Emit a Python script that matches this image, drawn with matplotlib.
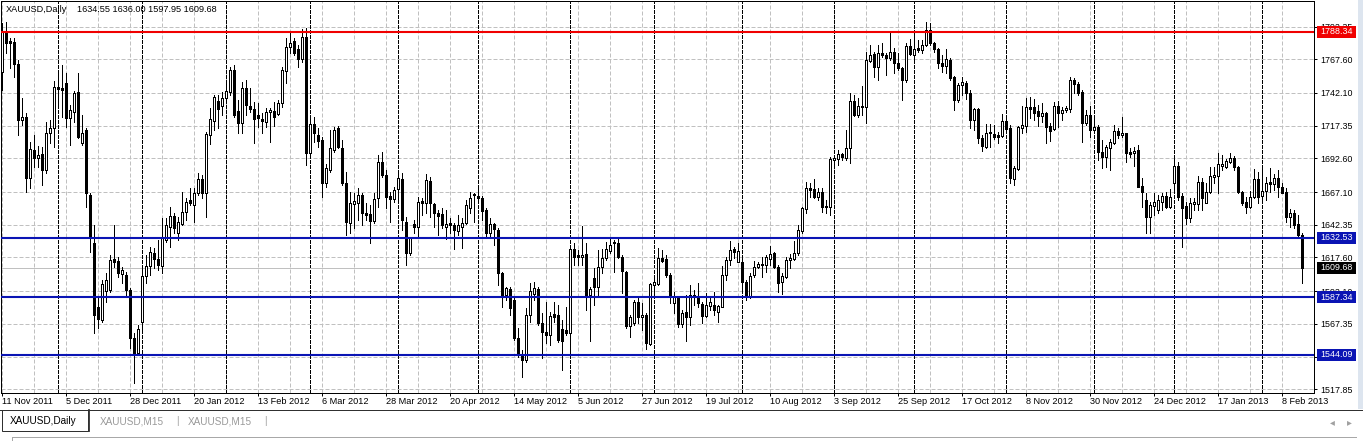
import numpy as np
import matplotlib.pyplot as plt
from matplotlib.patches import Rectangle
import matplotlib.transforms as mtransforms

plt.rcParams['font.family'] = ['Liberation Sans', 'DejaVu Sans']

# daily XAUUSD bars, 11 Nov 2011 .. 12 Feb 2013
opens = [
    1758.2, 1788.5, 1781.4, 1780.9, 1764.0, 1721.6, 1723.6, 1677.5, 1698.9, 1692.6,
    1695.9, 1683.8, 1711.5, 1715.3, 1746.3, 1745.6, 1749.4, 1723.4, 1727.9, 1743.1,
    1704.5, 1714.0, 1664.8, 1628.8, 1579.8, 1570.2, 1592.4, 1592.9, 1616.1, 1615.1,
    1605.1, 1604.3, 1592.9, 1556.4, 1545.5, 1569.0, 1603.5, 1611.1, 1621.2, 1616.1,
    1611.4, 1630.8, 1640.9, 1649.0, 1635.8, 1642.9, 1652.2, 1661.1, 1657.3, 1666.1,
    1676.7, 1666.1, 1710.3, 1721.1, 1736.2, 1732.2, 1738.0, 1743.1, 1759.5, 1728.7,
    1719.6, 1745.6, 1732.2, 1729.7, 1725.4, 1722.6, 1720.3, 1727.9, 1728.7, 1726.2,
    1734.7, 1759.0, 1776.6, 1781.7, 1775.1, 1767.5, 1784.2, 1696.4, 1718.6, 1710.3,
    1706.5, 1674.2, 1683.8, 1698.9, 1715.3, 1700.2, 1673.7, 1643.9, 1657.8, 1658.5,
    1664.8, 1651.0, 1650.5, 1645.4, 1662.3, 1690.1, 1680.0, 1664.1, 1661.6, 1669.1,
    1676.7, 1644.7, 1620.7, 1642.9, 1640.9, 1660.3, 1659.0, 1675.7, 1658.0, 1651.5,
    1650.5, 1640.9, 1643.9, 1642.1, 1637.8, 1640.4, 1643.4, 1654.7, 1665.6, 1664.1,
    1662.3, 1653.5, 1635.8, 1642.9, 1638.4, 1605.6, 1589.2, 1593.4, 1585.4, 1556.4,
    1543.7, 1540.0, 1574.0, 1589.9, 1593.4, 1568.2, 1561.4, 1558.9, 1574.8, 1574.0,
    1563.2, 1562.7, 1560.6, 1623.7, 1619.4, 1617.7, 1619.9, 1589.2, 1601.8, 1595.5,
    1610.1, 1616.9, 1622.7, 1629.5, 1628.8, 1617.7, 1606.3, 1565.7, 1568.2, 1584.1,
    1572.2, 1574.0, 1552.1, 1596.7, 1597.2, 1616.9, 1616.1, 1604.3, 1582.9, 1587.4,
    1567.2, 1576.5, 1572.8, 1589.2, 1588.4, 1582.3, 1573.3, 1580.8, 1581.6, 1576.5,
    1580.3, 1604.3, 1615.6, 1623.7, 1614.4, 1614.4, 1599.2, 1587.9, 1604.3, 1610.6,
    1612.4, 1611.9, 1616.1, 1620.7, 1610.1, 1599.2, 1603.0, 1615.6, 1616.1, 1620.7,
    1637.8, 1654.0, 1670.4, 1669.1, 1663.6, 1667.4, 1656.5, 1655.5, 1691.3, 1691.8,
    1695.6, 1692.6, 1700.2, 1736.0, 1725.4, 1731.2, 1731.2, 1766.5, 1771.6, 1761.5,
    1772.1, 1770.6, 1768.3, 1772.8, 1765.0, 1760.7, 1751.9, 1777.6, 1770.8, 1775.9,
    1774.6, 1778.4, 1789.7, 1779.6, 1775.1, 1765.0, 1762.5, 1767.0, 1753.9, 1736.7,
    1748.1, 1749.9, 1742.3, 1721.6, 1729.7, 1707.7, 1701.4, 1711.5, 1711.0, 1710.3,
    1709.5, 1721.1, 1715.3, 1676.7, 1684.3, 1715.3, 1717.1, 1731.2, 1731.2, 1728.7,
    1724.6, 1726.7, 1717.1, 1714.5, 1732.2, 1727.2, 1729.2, 1729.7, 1751.9, 1748.9,
    1743.1, 1719.6, 1725.4, 1714.0, 1716.1, 1697.6, 1693.9, 1700.2, 1704.5, 1713.3,
    1710.3, 1711.5, 1697.6, 1696.9, 1698.9, 1671.7, 1661.1, 1648.0, 1656.5, 1653.5,
    1659.8, 1664.1, 1655.5, 1674.2, 1686.8, 1664.1, 1656.5, 1647.2, 1658.0, 1658.0,
    1674.9, 1659.0, 1667.4, 1678.7, 1679.2, 1686.8, 1685.8, 1690.1, 1692.6, 1686.3,
    1667.4, 1659.8, 1655.5, 1663.6, 1676.7, 1664.1, 1668.1, 1674.9, 1673.2, 1677.5,
    1671.2, 1667.4, 1648.0, 1651.0, 1642.9, 1634.55,
]
highs = [
    1794.8, 1796.0, 1783.4, 1783.4, 1767.0, 1738.0, 1726.7, 1705.2, 1710.3, 1701.9,
    1701.4, 1720.3, 1721.6, 1751.4, 1756.9, 1763.2, 1756.9, 1733.0, 1743.8, 1756.9,
    1725.4, 1715.3, 1666.1, 1642.1, 1587.9, 1600.5, 1605.6, 1619.4, 1642.1, 1617.7,
    1610.6, 1606.8, 1594.2, 1560.1, 1566.4, 1610.6, 1619.4, 1625.7, 1624.5, 1630.8,
    1647.2, 1647.2, 1656.0, 1651.0, 1648.4, 1667.4, 1662.3, 1669.9, 1669.9, 1681.2,
    1680.0, 1712.8, 1730.4, 1740.5, 1740.5, 1743.1, 1751.9, 1762.0, 1763.2, 1736.7,
    1750.6, 1751.9, 1745.6, 1735.5, 1734.2, 1726.7, 1730.4, 1730.4, 1735.5, 1736.7,
    1762.0, 1783.4, 1787.2, 1783.4, 1778.4, 1790.2, 1791.0, 1725.4, 1724.1, 1715.3,
    1709.0, 1688.3, 1714.0, 1716.6, 1717.1, 1706.5, 1682.5, 1667.4, 1666.1, 1669.9,
    1666.1, 1658.5, 1657.3, 1666.1, 1695.1, 1697.6, 1683.8, 1667.4, 1671.2, 1683.8,
    1681.2, 1648.4, 1633.3, 1645.9, 1663.6, 1662.3, 1680.7, 1678.7, 1658.5, 1653.5,
    1654.7, 1653.5, 1647.2, 1643.4, 1649.7, 1647.2, 1661.1, 1667.4, 1666.6, 1671.7,
    1664.1, 1654.7, 1647.2, 1643.4, 1639.6, 1606.8, 1595.5, 1595.5, 1586.6, 1563.9,
    1547.5, 1579.1, 1598.0, 1599.2, 1595.5, 1575.3, 1584.1, 1576.6, 1584.1, 1581.6,
    1570.2, 1580.3, 1625.7, 1628.8, 1623.2, 1641.4, 1628.8, 1595.5, 1609.3, 1623.2,
    1623.7, 1629.5, 1633.3, 1630.8, 1632.0, 1619.4, 1607.6, 1574.0, 1585.4, 1586.6,
    1583.3, 1575.3, 1598.0, 1603.0, 1624.5, 1623.2, 1619.4, 1605.6, 1591.7, 1587.9,
    1577.8, 1589.2, 1596.7, 1592.9, 1598.5, 1584.1, 1590.9, 1586.6, 1591.7, 1581.6,
    1611.1, 1618.2, 1630.3, 1625.7, 1628.2, 1616.9, 1600.5, 1605.6, 1615.1, 1614.4,
    1617.7, 1619.4, 1626.2, 1621.9, 1611.9, 1605.6, 1617.7, 1620.2, 1630.3, 1642.1,
    1656.0, 1674.9, 1673.7, 1676.7, 1669.9, 1669.9, 1661.1, 1693.9, 1695.1, 1698.9,
    1696.9, 1714.0, 1742.3, 1740.5, 1738.0, 1747.3, 1773.3, 1778.4, 1773.3, 1778.4,
    1779.6, 1772.1, 1788.5, 1775.9, 1772.6, 1762.0, 1779.6, 1782.7, 1789.7, 1782.2,
    1782.2, 1796.0, 1794.8, 1780.9, 1775.9, 1770.8, 1775.1, 1768.3, 1754.9, 1749.4,
    1754.4, 1751.4, 1744.3, 1730.4, 1730.4, 1710.3, 1718.6, 1718.6, 1717.8, 1712.8,
    1726.2, 1722.9, 1717.8, 1686.8, 1717.1, 1732.2, 1738.0, 1738.8, 1737.2, 1733.0,
    1734.7, 1727.9, 1719.1, 1735.5, 1736.2, 1731.2, 1732.2, 1754.4, 1753.1, 1750.6,
    1744.3, 1729.2, 1732.2, 1725.4, 1717.8, 1706.5, 1702.7, 1707.0, 1717.8, 1715.3,
    1724.1, 1712.0, 1700.2, 1701.4, 1702.7, 1677.5, 1666.6, 1659.8, 1666.6, 1664.8,
    1666.1, 1667.4, 1669.1, 1693.9, 1690.1, 1666.1, 1659.8, 1662.3, 1662.3, 1679.2,
    1677.5, 1673.7, 1686.3, 1686.3, 1696.9, 1695.1, 1691.8, 1696.4, 1694.4, 1686.8,
    1668.1, 1663.1, 1668.1, 1684.3, 1682.5, 1684.3, 1678.7, 1685.0, 1680.7, 1683.8,
    1674.2, 1669.9, 1654.0, 1653.5, 1649.7, 1636.00,
]
lows = [
    1744.3, 1772.1, 1760.7, 1754.4, 1710.3, 1717.8, 1667.4, 1669.9, 1686.3, 1686.3,
    1672.4, 1681.7, 1704.5, 1701.4, 1730.4, 1724.1, 1716.6, 1702.7, 1720.3, 1707.7,
    1702.7, 1656.0, 1621.9, 1560.1, 1563.9, 1569.0, 1584.1, 1591.7, 1610.6, 1603.0,
    1598.0, 1589.2, 1548.8, 1522.8, 1543.7, 1562.7, 1598.0, 1604.3, 1609.3, 1608.1,
    1605.6, 1629.5, 1625.2, 1635.8, 1630.8, 1642.1, 1645.9, 1657.3, 1644.7, 1664.8,
    1662.3, 1648.4, 1703.4, 1714.0, 1715.3, 1725.4, 1736.7, 1740.5, 1724.1, 1711.5,
    1711.5, 1725.4, 1727.9, 1704.5, 1716.6, 1712.0, 1716.6, 1705.2, 1717.1, 1725.4,
    1731.7, 1749.4, 1772.6, 1770.8, 1761.5, 1765.8, 1687.6, 1694.4, 1705.2, 1701.4,
    1663.6, 1671.2, 1682.5, 1697.6, 1700.2, 1672.4, 1634.6, 1636.3, 1639.6, 1645.9,
    1642.1, 1645.9, 1628.2, 1643.4, 1656.0, 1678.7, 1654.7, 1644.7, 1659.8, 1661.1,
    1638.4, 1611.9, 1619.4, 1635.8, 1632.0, 1649.7, 1651.0, 1648.4, 1640.9, 1634.6,
    1639.6, 1631.3, 1635.8, 1623.7, 1634.6, 1624.5, 1642.9, 1651.0, 1644.7, 1659.8,
    1645.9, 1632.0, 1633.3, 1627.0, 1596.7, 1580.3, 1585.4, 1574.0, 1555.1, 1542.5,
    1527.3, 1538.7, 1569.0, 1585.4, 1566.4, 1541.2, 1552.6, 1551.3, 1569.0, 1553.8,
    1532.4, 1558.9, 1545.0, 1611.9, 1611.9, 1611.9, 1577.8, 1554.6, 1581.6, 1587.9,
    1606.1, 1615.6, 1620.7, 1606.8, 1616.9, 1590.4, 1563.9, 1557.6, 1566.4, 1567.7,
    1562.7, 1548.0, 1551.3, 1589.2, 1596.7, 1614.4, 1603.0, 1582.9, 1575.8, 1565.2,
    1565.2, 1554.6, 1566.4, 1581.6, 1580.3, 1567.7, 1572.8, 1577.8, 1574.0, 1569.0,
    1579.8, 1600.5, 1611.9, 1616.9, 1614.4, 1591.7, 1585.4, 1586.6, 1603.0, 1609.3,
    1603.0, 1606.8, 1611.9, 1609.3, 1591.7, 1589.9, 1601.8, 1609.3, 1615.6, 1619.4,
    1635.8, 1651.0, 1663.6, 1662.3, 1661.1, 1652.2, 1651.5, 1649.7, 1686.3, 1687.6,
    1691.3, 1691.3, 1688.8, 1724.6, 1724.1, 1725.4, 1719.1, 1765.8, 1754.4, 1751.9,
    1769.5, 1755.7, 1767.0, 1756.9, 1759.5, 1736.7, 1750.6, 1770.8, 1767.0, 1773.3,
    1772.1, 1777.6, 1778.4, 1773.3, 1760.7, 1758.2, 1756.9, 1751.9, 1729.2, 1735.5,
    1740.5, 1737.2, 1715.3, 1714.0, 1704.5, 1698.4, 1700.2, 1700.9, 1707.0, 1704.5,
    1709.0, 1711.5, 1673.7, 1672.4, 1683.8, 1711.5, 1712.8, 1722.9, 1721.6, 1717.1,
    1720.3, 1704.5, 1706.0, 1714.0, 1716.6, 1721.6, 1727.9, 1727.9, 1742.3, 1740.5,
    1705.2, 1717.8, 1708.5, 1712.8, 1691.3, 1685.0, 1686.3, 1683.8, 1703.4, 1707.7,
    1708.5, 1690.1, 1693.9, 1686.8, 1670.6, 1656.0, 1635.8, 1635.8, 1649.7, 1651.0,
    1653.5, 1654.7, 1654.7, 1666.1, 1661.1, 1625.7, 1642.9, 1644.7, 1653.5, 1653.5,
    1653.5, 1658.5, 1666.1, 1673.7, 1666.6, 1683.8, 1685.0, 1688.8, 1683.8, 1666.1,
    1657.3, 1651.5, 1654.7, 1662.3, 1658.5, 1659.8, 1661.1, 1667.4, 1668.6, 1663.6,
    1666.1, 1644.7, 1640.9, 1639.6, 1633.3, 1597.95,
]
closes = [
    1788.5, 1780.1, 1780.1, 1764.0, 1721.6, 1724.1, 1677.5, 1699.4, 1692.6, 1695.1,
    1683.8, 1712.0, 1715.3, 1746.3, 1744.8, 1744.3, 1722.9, 1729.2, 1742.3, 1708.5,
    1711.5, 1666.1, 1632.0, 1574.0, 1570.7, 1597.2, 1600.5, 1615.6, 1614.4, 1605.6,
    1608.1, 1592.9, 1556.4, 1545.0, 1563.2, 1603.5, 1611.1, 1622.0, 1616.1, 1611.9,
    1632.0, 1642.1, 1649.0, 1639.6, 1644.7, 1652.2, 1659.8, 1658.5, 1666.6, 1676.7,
    1666.1, 1711.0, 1722.1, 1738.8, 1729.7, 1738.0, 1743.8, 1759.5, 1725.4, 1719.6,
    1745.6, 1733.0, 1729.7, 1722.1, 1722.9, 1720.9, 1727.9, 1729.2, 1723.6, 1734.2,
    1759.5, 1777.1, 1780.1, 1772.1, 1767.5, 1784.2, 1696.9, 1718.6, 1711.5, 1706.0,
    1674.2, 1685.0, 1700.2, 1714.0, 1701.4, 1673.7, 1644.7, 1658.5, 1660.3, 1664.8,
    1651.0, 1649.7, 1645.4, 1661.6, 1690.1, 1680.0, 1663.6, 1661.6, 1668.6, 1677.5,
    1645.9, 1620.7, 1632.0, 1640.4, 1659.8, 1658.5, 1676.2, 1658.5, 1651.5, 1649.0,
    1642.1, 1642.9, 1642.1, 1638.4, 1642.1, 1643.9, 1657.3, 1662.3, 1664.8, 1662.3,
    1653.0, 1635.8, 1642.9, 1638.9, 1605.6, 1589.2, 1594.2, 1579.1, 1556.4, 1543.7,
    1540.0, 1574.0, 1592.4, 1594.2, 1568.2, 1561.4, 1558.9, 1573.3, 1572.8, 1555.1,
    1554.6, 1560.1, 1623.7, 1618.2, 1617.7, 1619.4, 1589.2, 1593.4, 1595.5, 1610.1,
    1616.9, 1623.7, 1626.7, 1628.2, 1618.2, 1607.6, 1565.7, 1572.8, 1584.1, 1572.8,
    1574.0, 1552.6, 1597.2, 1599.2, 1616.9, 1615.1, 1604.3, 1587.4, 1587.4, 1567.2,
    1575.8, 1572.2, 1589.2, 1587.4, 1583.3, 1573.3, 1581.6, 1584.1, 1577.8, 1580.8,
    1604.3, 1615.6, 1623.2, 1622.0, 1622.5, 1599.2, 1587.9, 1603.5, 1610.6, 1612.4,
    1611.9, 1617.7, 1620.2, 1610.1, 1598.5, 1603.5, 1615.6, 1616.9, 1620.7, 1638.4,
    1654.7, 1669.9, 1668.6, 1663.6, 1667.1, 1656.0, 1655.5, 1691.8, 1692.6, 1695.9,
    1693.4, 1700.2, 1736.0, 1725.4, 1732.2, 1732.2, 1767.0, 1770.8, 1761.5, 1772.6,
    1770.6, 1768.3, 1772.8, 1764.5, 1760.7, 1751.9, 1777.6, 1771.6, 1775.1, 1774.6,
    1778.4, 1789.7, 1779.6, 1775.1, 1764.5, 1762.5, 1767.5, 1753.1, 1736.7, 1748.1,
    1750.6, 1741.8, 1721.6, 1729.7, 1707.7, 1701.9, 1712.0, 1712.8, 1709.0, 1709.0,
    1721.1, 1714.5, 1677.5, 1685.0, 1716.1, 1717.8, 1731.2, 1729.7, 1727.2, 1724.6,
    1726.7, 1716.1, 1713.5, 1732.2, 1727.2, 1729.2, 1730.4, 1751.9, 1748.9, 1742.3,
    1719.6, 1725.4, 1714.0, 1716.1, 1697.6, 1693.9, 1700.9, 1705.2, 1713.3, 1710.3,
    1711.5, 1696.9, 1695.9, 1698.4, 1671.2, 1667.4, 1648.0, 1657.3, 1659.8, 1661.1,
    1664.1, 1655.5, 1663.6, 1686.8, 1663.6, 1654.7, 1647.2, 1659.0, 1659.8, 1674.9,
    1662.3, 1667.4, 1679.2, 1680.0, 1688.3, 1688.3, 1690.8, 1692.6, 1685.8, 1667.4,
    1659.0, 1655.5, 1663.6, 1676.7, 1663.6, 1668.1, 1674.2, 1673.2, 1677.5, 1671.2,
    1666.6, 1648.0, 1651.0, 1642.1, 1634.6, 1609.68,
]

date_labels = ['11 Nov 2011', '5 Dec 2011', '28 Dec 2011', '20 Jan 2012', '13 Feb 2012',
               '6 Mar 2012', '28 Mar 2012', '20 Apr 2012', '14 May 2012', '5 Jun 2012',
               '27 Jun 2012', '19 Jul 2012', '10 Aug 2012', '3 Sep 2012', '25 Sep 2012',
               '17 Oct 2012', '8 Nov 2012', '30 Nov 2012', '24 Dec 2012', '17 Jan 2013',
               '8 Feb 2013']
label_step = 16
# first bar of each month (period separators)
month_starts = [14, 35, 56, 77, 99, 119, 142, 163, 185, 208, 228, 251, 273, 293, 315]
price_ticks = [1792.35, 1767.60, 1742.10, 1717.35, 1692.60, 1667.10, 1642.35,
               1617.60, 1592.10, 1567.35, 1542.60, 1517.85]
hidden_tick = 1542.60   # fully covered by the 1544.09 tag in the original
resistance = 1788.34
supports = [1632.53, 1587.34, 1544.09]
header = 'XAUUSD,Daily'
tabs = ['XAUUSD,Daily', 'XAUUSD,M15', 'XAUUSD,M15']

assert len(opens) == len(highs) == len(lows) == len(closes)

W, H = 1363, 441
fig = plt.figure(figsize=(W / 100, H / 100), dpi=100)
fig.patch.set_facecolor('white')

def fx(x):
    return x / W

def fy(y):
    return 1 - y / H

# chart box in pixels
L, R, T, B = 1, 1314, 1, 393
ax = fig.add_axes([fx(L), fy(B), (R - L) / W, (B - T) / H])
ax.set_facecolor('white')
y_lo, y_hi = 1515.0, 1811.7
ax.set_xlim(-0.25, 328)
ax.set_ylim(y_lo, y_hi)

o = np.array(opens)
h = np.array(highs)
l = np.array(lows)
c = np.array(closes)
idx = np.arange(len(c))
up = c >= o

lw = 0.72
ax.vlines(idx, l, h, color='black', lw=lw, zorder=3, antialiased=False)
ax.bar(idx[up], (c - o)[up], bottom=o[up], width=0.5, color='white',
       edgecolor='black', linewidth=lw, zorder=4, antialiased=False)
ax.bar(idx[~up], (o - c)[~up], bottom=c[~up], width=0.5, color='black',
       edgecolor='black', linewidth=lw, zorder=4, antialiased=False)

# grid + separators
grid_col = '#c0c0c0'
ax.set_yticks(price_ticks)
ax.set_yticklabels(['' if v == hidden_tick else f'{v:.2f}' for v in price_ticks])
ax.yaxis.tick_right()
major = np.arange(0, len(date_labels) * label_step, label_step)
ax.set_xticks(major)
ax.set_xticklabels(date_labels)
ax.set_xticks(np.arange(0, 329, 8), minor=True)
ax.grid(True, axis='y', which='major', color=grid_col, lw=lw, linestyle=(0, (4, 2)))
ax.grid(True, axis='x', which='both', color=grid_col, lw=lw, linestyle=(0, (4, 2)))
ax.set_axisbelow(True)
for t in ax.get_xticklabels():
    t.set_ha('left')
ax.tick_params(axis='x', which='major', length=2.2, width=lw, pad=0.8, labelsize=6.6)
ax.tick_params(axis='x', which='minor', length=0)
ax.tick_params(axis='y', length=2.2, width=lw, pad=2.4, labelsize=6.4)
for s in ax.spines.values():
    s.set_linewidth(lw)
    s.set_color('black')

for m in month_starts:
    ax.axvline(m, color='black', lw=lw, linestyle=(0, (3, 2)), zorder=2, antialiased=False)

# bid line
ax.axhline(closes[-1], color='#c0c0c0', lw=lw, zorder=2)

red = '#f00000'
blue = '#0a14b4'
ax.axhline(resistance, color=red, lw=1.5, zorder=5)
for v in supports:
    ax.axhline(v, color=blue, lw=1.5, zorder=5)

# price tags on the right scale
trans = mtransforms.blended_transform_factory(ax.transAxes, ax.transData)
per_px = (y_hi - y_lo) / (B - T)

def price_tag(v, color):
    x0 = (1316.5 - L) / (R - L)
    wdt = 39.5 / (R - L)
    hgt = 12 * per_px
    ax.add_patch(Rectangle((x0, v - hgt / 2), wdt, hgt, transform=trans,
                           facecolor=color, edgecolor='none', clip_on=False, zorder=6))
    ax.text(x0 + wdt / 2, v, f'{v:.2f}', transform=trans, ha='center', va='center',
            color='white', fontsize=6.4, zorder=7, clip_on=False)

price_tag(resistance, red)
for v in supports:
    price_tag(v, blue)
price_tag(closes[-1], 'black')

# header in the chart
last_bar = ' '.join(f'{v:.2f}' for v in [opens[-1], highs[-1], lows[-1], closes[-1]])
fig.text(fx(6), fy(9.5), header, fontsize=6.6, va='center', ha='left')
fig.text(fx(77), fy(9.5), last_bar, fontsize=6.6, va='center', ha='left')

# scroll strip on the right
fig.patches.append(Rectangle((fx(1358), fy(409)), 5 / W, 409 / H, transform=fig.transFigure,
                             facecolor='#dde5ef', edgecolor='none', zorder=0))

# tab bar at the bottom
fig.add_artist(plt.Line2D([0, 1], [fy(409.5), fy(409.5)], transform=fig.transFigure,
                          color='#303030', lw=lw))
fig.patches.append(Rectangle((fx(2), fy(431)), 86 / W, 21 / H, transform=fig.transFigure,
                             facecolor='white', edgecolor='#303030', lw=lw, zorder=1))
fig.add_artist(plt.Line2D([fx(88.5), fx(88.5)], [fy(410), fy(431)], transform=fig.transFigure,
                          color='#303030', lw=1.3))
fig.text(fx(10), fy(421), tabs[0], fontsize=7.2, va='center', ha='left', color='black')
fig.text(fx(100), fy(421), tabs[1], fontsize=7.2, va='center', ha='left', color='#9a9a9a')
fig.text(fx(176), fy(421), '|', fontsize=7.2, va='center', ha='left', color='#9a9a9a')
fig.text(fx(188), fy(421), tabs[2], fontsize=7.2, va='center', ha='left', color='#9a9a9a')
fig.text(fx(264), fy(421), '|', fontsize=7.2, va='center', ha='left', color='#9a9a9a')
fig.text(fx(1332), fy(422), '\u25c2', fontsize=7, va='center', ha='center', color='#a0a0a0')
fig.text(fx(1349), fy(422), '\u25b8', fontsize=7, va='center', ha='center', color='#a0a0a0')
fig.add_artist(plt.Line2D([fx(12), fx(1356)], [fy(437), fy(437)], transform=fig.transFigure,
                          color='#a8a8a8', lw=lw))
fig.add_artist(plt.Line2D([fx(12), fx(12)], [fy(437), 0], transform=fig.transFigure,
                          color='#a8a8a8', lw=lw))

fig.savefig('out.png', dpi=100)
